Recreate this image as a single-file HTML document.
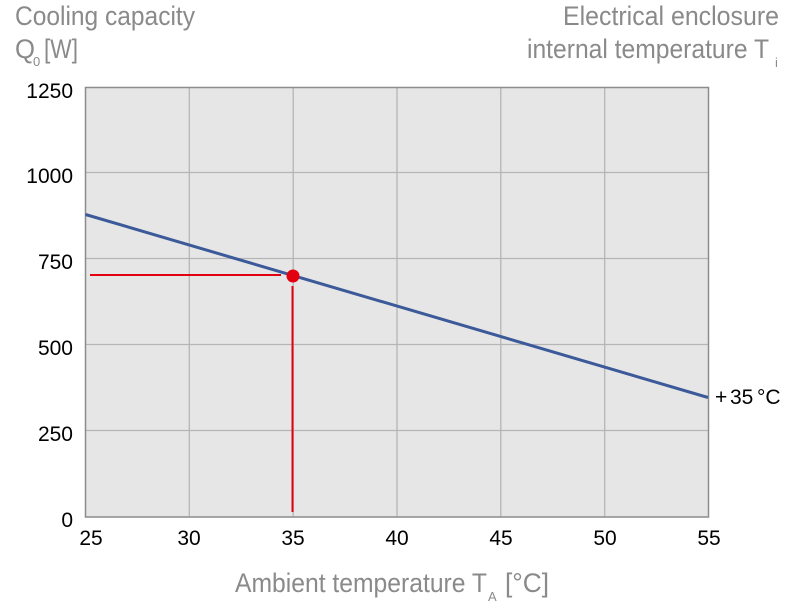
<!DOCTYPE html>
<html><head><style>
html,body{margin:0;padding:0;background:#fff;}
svg{display:block;}
.t{font-family:"Liberation Sans Narrow","Liberation Sans",sans-serif;fill:#8a8a8a;font-size:27px;}
.s{font-family:"Liberation Sans",sans-serif;fill:#8a8a8a;font-size:13px;}
.n{font-family:"Liberation Sans",sans-serif;fill:#000;font-size:21px;}
</style></head><body>
<svg width="799" height="607" viewBox="0 0 799 607">
<rect x="85.5" y="87.5" width="623" height="429.5" fill="#e6e6e6"/>
<g stroke="#b5b5b5" stroke-width="1.3">
<line x1="189.3" y1="88" x2="189.3" y2="517"/>
<line x1="293.2" y1="88" x2="293.2" y2="517"/>
<line x1="397" y1="88" x2="397" y2="517"/>
<line x1="500.8" y1="88" x2="500.8" y2="517"/>
<line x1="604.7" y1="88" x2="604.7" y2="517"/>
<line x1="86" y1="172.5" x2="708" y2="172.5"/>
<line x1="86" y1="258.5" x2="708" y2="258.5"/>
<line x1="86" y1="344.5" x2="708" y2="344.5"/>
<line x1="86" y1="430.5" x2="708" y2="430.5"/>
</g>
<rect x="85.5" y="87.5" width="623" height="429.5" fill="none" stroke="#8c8c8c" stroke-width="1.5"/>
<line x1="85.5" y1="214.5" x2="708" y2="397.5" stroke="#3c5a9a" stroke-width="3"/>
<line x1="90" y1="275" x2="281" y2="275" stroke="#e3000f" stroke-width="2"/>
<line x1="292.5" y1="286" x2="292.5" y2="512" stroke="#e3000f" stroke-width="2"/>
<circle cx="293" cy="276" r="6.5" fill="#e3000f"/>
<g class="n" text-anchor="end">
<text x="73" y="98">1250</text>
<text x="73" y="183">1000</text>
<text x="73" y="269">750</text>
<text x="73" y="355">500</text>
<text x="73" y="441">250</text>
<text x="73" y="527">0</text>
</g>
<g class="n" text-anchor="middle">
<text x="91" y="545">25</text>
<text x="189" y="545">30</text>
<text x="293" y="545">35</text>
<text x="397" y="545">40</text>
<text x="501" y="545">45</text>
<text x="605" y="545">50</text>
<text x="709" y="545">55</text>
</g>
<text class="n" x="715" y="404">+</text>
<text class="n" x="730" y="404">35</text>
<text class="n" x="757" y="404">°C</text>
<text class="t" x="15" y="25" textLength="180" lengthAdjust="spacingAndGlyphs">Cooling capacity</text>
<text class="t" x="15" y="58" textLength="20" lengthAdjust="spacingAndGlyphs">Q</text>
<text class="s" x="33" y="66">0</text>
<text class="t" x="44" y="58" textLength="34" lengthAdjust="spacingAndGlyphs">[W]</text>
<text class="t" x="563" y="25" textLength="216" lengthAdjust="spacingAndGlyphs">Electrical enclosure</text>
<text class="t" x="527" y="58" textLength="242" lengthAdjust="spacingAndGlyphs">internal temperature T</text>
<text class="s" x="775" y="67">i</text>
<text class="t" x="235" y="592" textLength="252" lengthAdjust="spacingAndGlyphs">Ambient temperature T</text>
<text class="s" x="488" y="601">A</text>
<text class="t" x="505" y="592" textLength="44" lengthAdjust="spacingAndGlyphs">[°C]</text>
</svg>
</body></html>
